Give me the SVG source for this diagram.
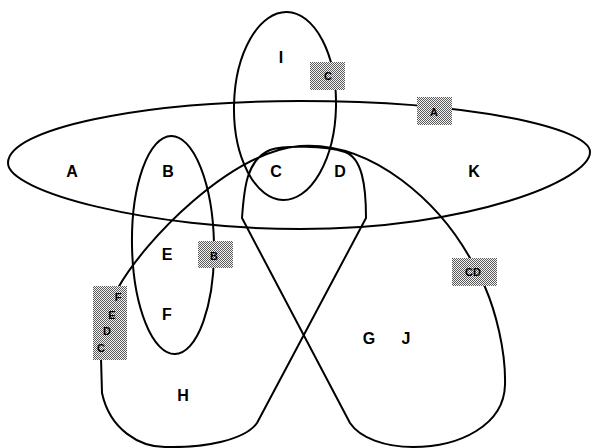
<svg xmlns="http://www.w3.org/2000/svg" width="591" height="448" viewBox="0 0 591 448">
<style>
.ln{fill:none;stroke:#000;stroke-width:2;stroke-linejoin:round}
.lb{font-family:"Liberation Sans",Arial,sans-serif;font-weight:bold;font-size:16px;text-anchor:middle;fill:#000}
.sl{font-family:"Liberation Sans",Arial,sans-serif;font-weight:bold;font-size:11px;text-anchor:middle;fill:#000}
.bx{fill:url(#dith)}
</style>
<defs>
<pattern id="dith" width="2" height="2" patternUnits="userSpaceOnUse">
<rect width="2" height="2" fill="#f4f4f4"/>
<rect width="1" height="1" fill="#5a5a5a"/>
<rect x="1" y="1" width="1" height="1" fill="#5a5a5a"/>
</pattern>
</defs>
<g id="shapes">
<path id="setA" class="ln" d="M8,163 C8,129 140,101 300,101 C470,101 590,128 590,152 C590,180 470,229 300,229 C150,229 8,192 8,163 Z"/>
<ellipse id="setB" class="ln" cx="173" cy="245" rx="41" ry="109" transform="rotate(-1 173 245)"/>
<ellipse id="setI" class="ln" cx="285" cy="106" rx="51" ry="94" transform="rotate(1.2 285 106)"/>
<path id="setLoop" class="ln" d="M366,218 L257,423 C245,440 205,448 165,447 C140,447 110,430 102,393 L101,358 L118,288 C145,240 230,152 300,146 C375,141 440,205 470,258 L485,287 C495,310 506,350 505,385 C504,425 460,447 413,447 C385,447 360,438 350,423 L242,218 C244,190 246,160 270,150 C285,145 325,146 345,152 C362,158 366,185 366,218 Z"/>
</g>
<g id="regions">
<text class="lb" x="72" y="177">A</text>
<text class="lb" x="168" y="177">B</text>
<text class="lb" x="276" y="177">C</text>
<text class="lb" x="340" y="177">D</text>
<text class="lb" x="474" y="177">K</text>
<text class="lb" x="281" y="63">I</text>
<text class="lb" x="167" y="260">E</text>
<text class="lb" x="167" y="320">F</text>
<text class="lb" x="369" y="344">G</text>
<text class="lb" x="406" y="344">J</text>
<text class="lb" x="183" y="401">H</text>
</g>
<g id="tags">
<g id="tagC"><rect class="bx" x="310" y="62" width="35" height="28"/><text class="sl" x="328" y="80">C</text></g>
<g id="tagA"><rect class="bx" x="417" y="97" width="35" height="28"/><text class="sl" x="434" y="116">A</text></g>
<g id="tagB"><rect class="bx" x="198" y="241" width="35" height="27"/><text class="sl" x="214" y="260">B</text></g>
<g id="tagCD"><rect class="bx" x="452" y="258" width="45" height="28"/><text class="sl" x="473" y="276">CD</text></g>
<g id="tagFEDC"><rect class="bx" x="93" y="286" width="34" height="74"/>
<text class="sl" x="118" y="301">F</text><text class="sl" x="112" y="319">E</text><text class="sl" x="107" y="335">D</text><text class="sl" x="101" y="352">C</text></g>
</g>
</svg>
